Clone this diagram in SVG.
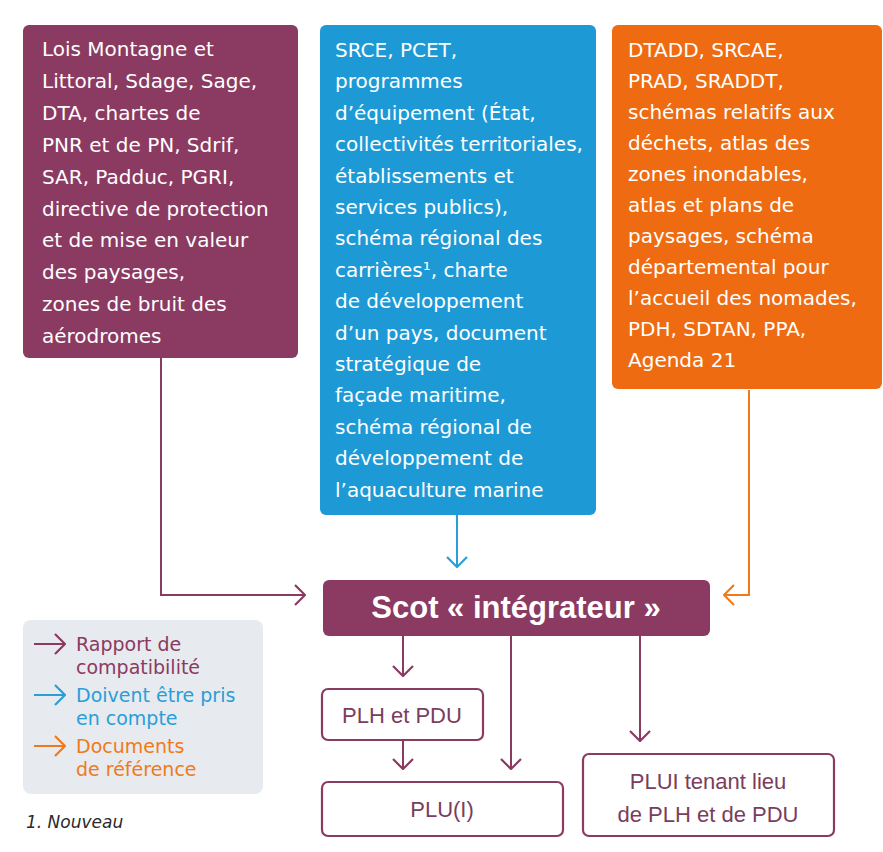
<svg xmlns="http://www.w3.org/2000/svg" width="883" height="852" viewBox="0 0 883 852">
<defs>
<style>
.bt{font-family:"DejaVu Sans",sans-serif;font-size:20px;fill:#ffffff;}
.lt{font-family:"DejaVu Sans",sans-serif;font-size:19px;}
.bx{fill:#ffffff;stroke:#8b3a62;stroke-width:2.2;}
.bl{font-family:"Liberation Sans",Arial,sans-serif;font-size:22px;fill:#7a3d5d;text-anchor:middle;}
.cp{fill:none;stroke:#8b3a62;stroke-width:2;}
.cb{fill:none;stroke:#2a9ed8;stroke-width:2;}
.co{fill:none;stroke:#f07a1a;stroke-width:2;}
</style>
<marker id="mp" viewBox="0 0 12 22" refX="11" refY="11" markerWidth="12" markerHeight="22" markerUnits="userSpaceOnUse" orient="auto"><path d="M1,1 L11,11 L1,21" fill="none" stroke="#8b3a62" stroke-width="2.2"/></marker>
<marker id="mb" viewBox="0 0 12 22" refX="11" refY="11" markerWidth="12" markerHeight="22" markerUnits="userSpaceOnUse" orient="auto"><path d="M1,1 L11,11 L1,21" fill="none" stroke="#2a9ed8" stroke-width="2.2"/></marker>
<marker id="mo" viewBox="0 0 12 22" refX="11" refY="11" markerWidth="12" markerHeight="22" markerUnits="userSpaceOnUse" orient="auto"><path d="M1,1 L11,11 L1,21" fill="none" stroke="#f07a1a" stroke-width="2.2"/></marker>
</defs>
<rect width="883" height="852" fill="#ffffff"/>

<g id="connectors">
<path class="cp" d="M161,358 V595 H305" marker-end="url(#mp)"/>
<path class="cb" d="M457,515 V567" marker-end="url(#mb)"/>
<path class="co" d="M749,390 V595 H724" marker-end="url(#mo)"/>
<path class="cp" d="M403,636 V676" marker-end="url(#mp)"/>
<path class="cp" d="M511,636 V769" marker-end="url(#mp)"/>
<path class="cp" d="M640,636 V741" marker-end="url(#mp)"/>
<path class="cp" d="M403,741 V769" marker-end="url(#mp)"/>
</g>

<g id="node-lois">
<rect x="23" y="25" width="275" height="333" rx="6" fill="#8b3a62"/>
<text class="bt" x="42" y="56" font-size="20.6"><tspan x="42">Lois Montagne et</tspan><tspan x="42" dy="31.9">Littoral, Sdage, Sage,</tspan><tspan x="42" dy="31.9">DTA, chartes de</tspan><tspan x="42" dy="31.9">PNR et de PN, Sdrif,</tspan><tspan x="42" dy="31.9">SAR, Padduc, PGRI,</tspan><tspan x="42" dy="31.9">directive de protection</tspan><tspan x="42" dy="31.9">et de mise en valeur</tspan><tspan x="42" dy="31.9">des paysages,</tspan><tspan x="42" dy="31.9">zones de bruit des</tspan><tspan x="42" dy="31.9">aérodromes</tspan></text>
</g>

<g id="node-srce">
<rect x="320" y="25" width="276" height="490" rx="6" fill="#1d9ad6"/>
<text class="bt" x="335" y="57"><tspan x="335">SRCE, PCET,</tspan><tspan x="335" dy="31.4">programmes</tspan><tspan x="335" dy="31.4">d’équipement (État,</tspan><tspan x="335" dy="31.4">collectivités territoriales,</tspan><tspan x="335" dy="31.4">établissements et</tspan><tspan x="335" dy="31.4">services publics),</tspan><tspan x="335" dy="31.4">schéma régional des</tspan><tspan x="335" dy="31.4">carrières¹, charte</tspan><tspan x="335" dy="31.4">de développement</tspan><tspan x="335" dy="31.4">d’un pays, document</tspan><tspan x="335" dy="31.4">stratégique de</tspan><tspan x="335" dy="31.4">façade maritime,</tspan><tspan x="335" dy="31.4">schéma régional de</tspan><tspan x="335" dy="31.4">développement de</tspan><tspan x="335" dy="31.4">l’aquaculture marine</tspan></text>
</g>

<g id="node-dtadd">
<rect x="612" y="25" width="270" height="364" rx="6" fill="#ee6b12"/>
<text class="bt" x="628" y="57"><tspan x="628">DTADD, SRCAE,</tspan><tspan x="628" dy="31">PRAD, SRADDT,</tspan><tspan x="628" dy="31">schémas relatifs aux</tspan><tspan x="628" dy="31">déchets, atlas des</tspan><tspan x="628" dy="31">zones inondables,</tspan><tspan x="628" dy="31">atlas et plans de</tspan><tspan x="628" dy="31">paysages, schéma</tspan><tspan x="628" dy="31">départemental pour</tspan><tspan x="628" dy="31">l’accueil des nomades,</tspan><tspan x="628" dy="31">PDH, SDTAN, PPA,</tspan><tspan x="628" dy="31">Agenda 21</tspan></text>
</g>

<g id="node-scot">
<rect x="323" y="580" width="387" height="56" rx="6" fill="#8b3a62"/>
<text x="516" y="618" text-anchor="middle" font-family="'Liberation Sans',Arial,sans-serif" font-size="31" font-weight="bold" fill="#ffffff">Scot « intégrateur »</text>
</g>

<g id="node-plh">
<rect class="bx" x="322" y="689" width="161" height="51" rx="6"/>
<text class="bl" x="402" y="723">PLH et PDU</text>
</g>

<g id="node-plu">
<rect class="bx" x="322" y="782" width="241" height="54" rx="6"/>
<text class="bl" x="442" y="817">PLU(I)</text>
</g>

<g id="node-plui">
<rect class="bx" x="583" y="754" width="251" height="82" rx="6"/>
<text class="bl" x="708" y="789">PLUI tenant lieu</text>
<text class="bl" x="708" y="822">de PLH et de PDU</text>
</g>

<g id="legend">
<rect x="23" y="620" width="240" height="174" rx="8" fill="#e7eaee"/>
<path class="cp" d="M34,644 H65" marker-end="url(#mp)"/>
<path class="cb" d="M34,695 H65" marker-end="url(#mb)"/>
<path class="co" d="M34,746 H65" marker-end="url(#mo)"/>
<text class="lt" x="76" y="651" fill="#8b3a62"><tspan x="76">Rapport de</tspan><tspan x="76" dy="22.5">compatibilité</tspan></text>
<text class="lt" x="76" y="702" fill="#2a9ed8"><tspan x="76">Doivent être pris</tspan><tspan x="76" dy="22.5">en compte</tspan></text>
<text class="lt" x="76" y="753" fill="#f07a1a"><tspan x="76">Documents</tspan><tspan x="76" dy="22.5">de référence</tspan></text>
</g>

<text x="26" y="828" font-family="'DejaVu Sans',sans-serif" font-size="17" font-style="italic" fill="#2a2a2a">1. Nouveau</text>
</svg>
